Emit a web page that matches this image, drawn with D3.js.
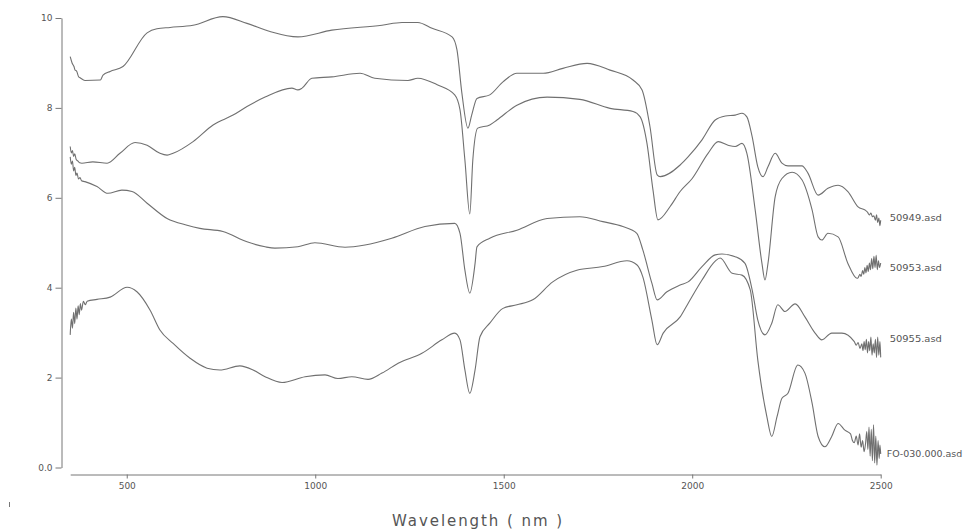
<!DOCTYPE html>
<html>
<head>
  <meta charset="utf-8">
  <title>Spectra</title>
  <script src="https://d3js.org/d3.v7.min.js"></script>
  <style>
    body { margin: 0; background: #fff; }
    text { font-family: "DejaVu Sans", sans-serif; fill: #555; }
  </style>
</head>
<body>
  <script>
    // spectra as [wavelength nm, value]
    var spec50949 = [
      [350, 9.14], [355, 9.0], [360, 8.92], [363, 8.84], [367, 8.82], [372, 8.7], [378, 8.66], [389, 8.61],
      [430, 8.62], [437, 8.73], [456, 8.81], [490, 8.92], [554, 9.67], [580, 9.76], [615, 9.79],
      [676, 9.84], [755, 10.03], [819, 9.88], [880, 9.7], [954, 9.58], [1044, 9.73], [1177, 9.84],
      [1230, 9.9], [1272, 9.9], [1310, 9.77], [1363, 9.58], [1376, 9.29], [1389, 8.33], [1405, 7.55],
      [1415, 7.84], [1429, 8.21], [1463, 8.29], [1498, 8.58], [1535, 8.77], [1605, 8.77], [1657, 8.88],
      [1721, 8.99], [1782, 8.84], [1843, 8.62], [1867, 8.4], [1888, 7.58], [1907, 6.51], [1915, 6.47],
      [1968, 6.73], [1989, 6.91], [2026, 7.29], [2061, 7.73], [2088, 7.82], [2114, 7.84], [2132, 7.88],
      [2145, 7.8], [2159, 7.36], [2174, 6.69], [2188, 6.47], [2201, 6.69], [2220, 6.99], [2238, 6.77],
      [2254, 6.71], [2291, 6.71], [2307, 6.55], [2334, 6.06], [2360, 6.21], [2387, 6.28], [2413, 6.14],
      [2440, 5.8], [2460, 5.72], [2465, 5.68], [2470, 5.62], [2474, 5.66], [2478, 5.58], [2482, 5.6],
      [2486, 5.5], [2489, 5.62], [2492, 5.45], [2495, 5.55], [2498, 5.38], [2500, 5.5]
    ];
    var spec50953 = [
      [350, 7.14], [353, 7.0], [356, 7.05], [359, 6.92], [362, 6.98], [366, 6.85], [370, 6.82], [375, 6.78],
      [381, 6.77], [410, 6.8], [448, 6.77], [482, 6.99], [522, 7.23], [554, 7.17], [588, 6.99], [607, 6.95],
      [623, 6.99], [676, 7.25], [729, 7.62], [782, 7.84], [819, 8.03], [867, 8.24], [938, 8.44], [954, 8.4],
      [965, 8.44], [991, 8.66], [1044, 8.69], [1119, 8.77], [1158, 8.66], [1246, 8.61], [1272, 8.66],
      [1325, 8.51], [1370, 8.29], [1384, 7.96], [1397, 6.84], [1410, 5.64], [1418, 6.84], [1431, 7.55],
      [1463, 7.62], [1482, 7.73], [1535, 8.06], [1615, 8.24], [1702, 8.19], [1782, 7.99], [1843, 7.92],
      [1862, 7.8], [1880, 7.21], [1896, 6.17], [1909, 5.51], [1941, 5.8], [1968, 6.14], [2000, 6.43],
      [2042, 6.99], [2069, 7.25], [2095, 7.17], [2114, 7.14], [2132, 7.21], [2145, 6.99], [2167, 5.73],
      [2185, 4.54], [2193, 4.17], [2201, 4.54], [2220, 6.02], [2238, 6.43], [2265, 6.57], [2291, 6.4],
      [2318, 5.73], [2334, 5.13], [2344, 5.06], [2360, 5.21], [2387, 5.13], [2413, 4.54], [2437, 4.21],
      [2440, 4.22], [2445, 4.3], [2448, 4.25], [2452, 4.38], [2455, 4.3], [2458, 4.45], [2461, 4.33],
      [2464, 4.5], [2467, 4.36], [2470, 4.55], [2473, 4.4], [2476, 4.65], [2479, 4.42], [2482, 4.7],
      [2485, 4.45], [2488, 4.72], [2491, 4.4], [2494, 4.6], [2497, 4.45], [2500, 4.55]
    ];
    var spec50955 = [
      [350, 6.91], [353, 6.75], [356, 6.82], [359, 6.6], [362, 6.68], [365, 6.5], [368, 6.55], [372, 6.42],
      [376, 6.45], [380, 6.38], [389, 6.36], [421, 6.25], [450, 6.1], [487, 6.17], [514, 6.14], [554, 5.88],
      [607, 5.54], [660, 5.39], [694, 5.32], [755, 5.25], [819, 5.02], [867, 4.91], [893, 4.88], [954, 4.91],
      [999, 5.0], [1079, 4.9], [1132, 4.95], [1203, 5.1], [1291, 5.36], [1370, 5.43], [1384, 5.21],
      [1397, 4.39], [1410, 3.88], [1424, 4.54], [1429, 4.91], [1463, 5.1], [1535, 5.28], [1615, 5.54],
      [1702, 5.58], [1763, 5.47], [1816, 5.36], [1853, 5.21], [1869, 4.84], [1893, 4.1], [1907, 3.73],
      [1933, 3.91], [1968, 4.06], [1989, 4.13], [2026, 4.47], [2061, 4.73], [2079, 4.75], [2114, 4.69],
      [2140, 4.54], [2159, 3.95], [2174, 3.28], [2193, 2.95], [2211, 3.21], [2227, 3.62], [2246, 3.47],
      [2273, 3.64], [2299, 3.35], [2326, 2.99], [2344, 2.84], [2370, 2.99], [2397, 2.99], [2430, 2.8],
      [2435, 2.72], [2440, 2.78], [2445, 2.65], [2450, 2.75], [2453, 2.6], [2456, 2.8], [2459, 2.62],
      [2462, 2.85], [2465, 2.55], [2468, 2.8], [2471, 2.6], [2474, 2.9], [2477, 2.5], [2480, 2.75],
      [2483, 2.55], [2486, 2.85], [2489, 2.45], [2492, 2.9], [2495, 2.5], [2498, 2.8], [2500, 2.45]
    ];
    var specFO030 = [
      [350, 2.95], [353, 3.3], [356, 3.1], [359, 3.45], [362, 3.2], [365, 3.55], [368, 3.3], [371, 3.6],
      [374, 3.4], [377, 3.65], [380, 3.5], [385, 3.7], [390, 3.62], [395, 3.7], [421, 3.74], [456, 3.79],
      [501, 4.01], [527, 3.91], [562, 3.5], [588, 3.06], [623, 2.76], [668, 2.43], [713, 2.21], [747, 2.17],
      [800, 2.26], [835, 2.17], [867, 2.02], [912, 1.89], [973, 2.02], [1026, 2.06], [1060, 1.98],
      [1097, 2.02], [1140, 1.96], [1177, 2.1], [1220, 2.32], [1283, 2.54], [1336, 2.84], [1370, 2.99],
      [1384, 2.84], [1397, 2.17], [1410, 1.65], [1424, 2.17], [1437, 2.91], [1463, 3.21], [1498, 3.54],
      [1535, 3.62], [1577, 3.73], [1630, 4.13], [1694, 4.39], [1763, 4.47], [1827, 4.6], [1853, 4.51],
      [1869, 4.24], [1893, 3.28], [1907, 2.73], [1923, 2.99], [1968, 3.35], [1989, 3.65], [2026, 4.17],
      [2061, 4.59], [2074, 4.66], [2106, 4.32], [2132, 4.28], [2154, 3.95], [2174, 2.39], [2198, 1.13],
      [2211, 0.69], [2225, 1.13], [2238, 1.54], [2254, 1.65], [2280, 2.28], [2299, 2.1], [2318, 1.43],
      [2334, 0.69], [2352, 0.46], [2370, 0.69], [2387, 0.98], [2405, 0.83], [2420, 0.75], [2425, 0.6],
      [2430, 0.55], [2435, 0.7], [2440, 0.5], [2444, 0.75], [2448, 0.45], [2452, 0.6], [2456, 0.35],
      [2460, 0.55], [2463, 0.8], [2466, 0.4], [2469, 0.9], [2472, 0.25], [2475, 0.85], [2478, 0.15],
      [2481, 0.95], [2484, 0.1], [2487, 0.7], [2490, 0.05], [2493, 0.6], [2496, 0.2], [2498, 0.5], [2500, 0.3]
    ];

    var seriesNames = ['50949.asd', '50953.asd', '50955.asd', 'FO-030.000.asd'];
    var labelLevels = [5.56, 4.44, 2.86, 0.29];
    var xTicks = [500, 1000, 1500, 2000, 2500];
    var yTicks = [0, 2, 4, 6, 8, 10];
    var allSpectra = [spec50949, spec50953, spec50955, specFO030];

    var width = 965, height = 530;
    var svg = d3.select('body').append('svg')
      .attr('width', width)
      .attr('height', height);

    var x = d3.scaleLinear().domain([350, 2500]).range([70.2, 880.7]);
    var y = d3.scaleLinear().domain([0, 10]).range([467.5, 18]);

    // y axis
    var yAxis = svg.append('g')
      .attr('transform', 'translate(61.5,0)')
      .call(d3.axisLeft(y).tickValues(yTicks).tickSize(6).tickSizeOuter(0).tickPadding(3)
        .tickFormat(function(d) { return d === 0 ? '0.0' : d; }));
    yAxis.select('.domain').attr('stroke', '#777');
    yAxis.selectAll('.tick line').attr('stroke', '#777');
    yAxis.selectAll('.tick text').style('font-size', '9px').attr('fill', '#555');

    // x axis
    var xAxis = svg.append('g')
      .attr('transform', 'translate(0,474.5)')
      .call(d3.axisBottom(x).tickValues(xTicks).tickSize(4).tickSizeOuter(0).tickPadding(4)
        .tickFormat(d3.format('d')));
    xAxis.select('.domain').attr('stroke', '#777');
    xAxis.selectAll('.tick line').attr('stroke', '#777');
    xAxis.selectAll('.tick text').style('font-size', '9px').attr('fill', '#555');

    var line = d3.line()
      .curve(d3.curveMonotoneX)
      .x(function(d) { return x(d[0]); })
      .y(function(d) { return y(d[1]); });

    svg.selectAll('path.spec')
      .data(allSpectra)
      .enter().append('path')
      .attr('class', 'spec')
      .attr('d', line)
      .attr('fill', 'none')
      .attr('stroke', '#707070')
      .attr('stroke-width', 1.1);

    svg.selectAll('text.name')
      .data(seriesNames)
      .enter().append('text')
      .attr('class', 'name')
      .attr('x', function(d, i) { return x(2500) + (i === 3 ? 6 : 9); })
      .attr('y', function(d, i) { return y(labelLevels[i]) + 3; })
      .attr('textLength', function(d) { return d.length * (d.length > 10 ? 5.4 : 5.8); })
      .attr('lengthAdjust', 'spacingAndGlyphs')
      .style('font-size', '8.5px')
      .text(function(d) { return d; });

    svg.append('text')
      .attr('x', 392)
      .attr('y', 526)
      .attr('textLength', 170)
      .attr('lengthAdjust', 'spacing')
      .style('font-size', '15px')
      .text('Wavelength ( nm )');

    // stray mark at the lower left
    svg.append('line')
      .attr('x1', 9.5).attr('x2', 9.5)
      .attr('y1', 502).attr('y2', 507)
      .attr('stroke', '#777');
  </script>
</body>
</html>
